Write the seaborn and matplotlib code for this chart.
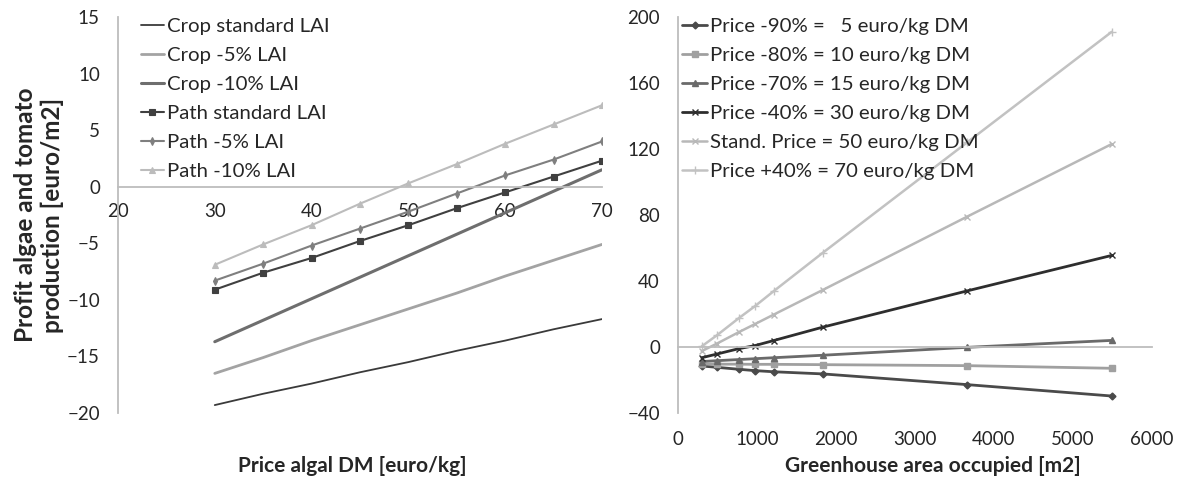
import pandas as pd
import seaborn as sns
import matplotlib
matplotlib.use("Agg")
import matplotlib.pyplot as plt

# left chart: profit vs algal price
price = [30, 35, 40, 45, 50, 55, 60, 65, 70]
crop_std = [-19.3, -18.3, -17.4, -16.4, -15.5, -14.5, -13.6, -12.6, -11.7]
crop_5 = [-16.5, -15.1, -13.6, -12.2, -10.8, -9.4, -7.9, -6.5, -5.1]
crop_10 = [-13.7, -11.8, -9.9, -8.0, -6.1, -4.2, -2.3, -0.4, 1.5]
path_std = [-9.1, -7.6, -6.3, -4.8, -3.4, -1.9, -0.5, 0.9, 2.3]
path_5 = [-8.3, -6.8, -5.2, -3.7, -2.2, -0.6, 1.0, 2.4, 4.0]
path_10 = [-6.9, -5.1, -3.4, -1.5, 0.3, 2.0, 3.8, 5.5, 7.2]

# right chart: profit vs greenhouse area
area = [300, 490, 770, 970, 1210, 1830, 3660, 5490]
p_minus90 = [-11.5, -12.3, -13.5, -14.3, -15.0, -16.3, -22.8, -29.7]
p_minus80 = [-10.3, -10.4, -10.4, -10.5, -10.5, -10.7, -11.3, -12.9]
p_minus70 = [-8.8, -8.3, -7.6, -7.1, -6.5, -5.0, -0.2, 4.0]
p_minus40 = [-6.5, -4.3, -1.0, 0.8, 3.9, 12.0, 34.0, 55.5]
p_stand = [-2.5, 2.0, 9.0, 13.8, 19.6, 34.5, 79.0, 123.0]
p_plus40 = [0.4, 7.0, 17.5, 24.6, 33.8, 57.0, 124.0, 191.0]

left_labels = ["Crop standard LAI", "Crop -5% LAI", "Crop -10% LAI",
               "Path standard LAI", "Path -5% LAI", "Path -10% LAI"]
right_labels = ["Price -90% =   5 euro/kg DM", "Price -80% = 10 euro/kg DM",
                "Price -70% = 15 euro/kg DM", "Price -40% = 30 euro/kg DM",
                "Stand. Price = 50 euro/kg DM", "Price +40% = 70 euro/kg DM"]

sns.set_style("white")
plt.rcParams["font.family"] = ["Lato", "DejaVu Sans"]

axis_col = "#bdbdbd"
txt_col = "#262626"

fig = plt.figure(figsize=(11.82, 4.86), dpi=100)
ax1 = fig.add_axes([0.0998, 0.1502, 0.4095, 0.8148])
ax2 = fig.add_axes([0.5736, 0.1502, 0.4010, 0.8148])

left_series = [crop_std, crop_5, crop_10, path_std, path_5, path_10]
left_style = [
    dict(color="#3a3a3a", lw=1.3, marker=None),
    dict(color="#a3a3a3", lw=2.0, marker=None),
    dict(color="#6e6e6e", lw=2.2, marker=None),
    dict(color="#404040", lw=1.5, marker="s", ms=5),
    dict(color="#7f7f7f", lw=1.5, marker="d", ms=4),
    dict(color="#bcbcbc", lw=1.5, marker="^", ms=5),
]
for vals, lab, st in zip(left_series, left_labels, left_style):
    df = pd.DataFrame({"x": price, "y": vals})
    sns.lineplot(data=df, x="x", y="y", ax=ax1, label=lab, color=st["color"],
                 linewidth=st["lw"], marker=st["marker"],
                 markersize=st.get("ms", 0), markeredgewidth=0.8,
                 markeredgecolor=st["color"])

right_series = [p_minus90, p_minus80, p_minus70, p_minus40, p_stand, p_plus40]
right_style = [
    dict(color="#4a4a4a", lw=2.0, marker="D", ms=3.5),
    dict(color="#a0a0a0", lw=2.0, marker="s", ms=5),
    dict(color="#6a6a6a", lw=2.0, marker="^", ms=5),
    dict(color="#2e2e2e", lw=2.0, marker="x", ms=5),
    dict(color="#b8b8b8", lw=1.8, marker="x", ms=5),
    dict(color="#c2c2c2", lw=1.8, marker="+", ms=6),
]
for vals, lab, st in zip(right_series, right_labels, right_style):
    df = pd.DataFrame({"x": area, "y": vals})
    sns.lineplot(data=df, x="x", y="y", ax=ax2, label=lab, color=st["color"],
                 linewidth=st["lw"], marker=st["marker"],
                 markersize=st["ms"], markeredgewidth=1.0,
                 markeredgecolor=st["color"])

# axes styling
ax1.set_xlim(20, 70)
ax1.set_ylim(-20, 15)
ax1.set_xticks(range(20, 71, 10))
ax1.set_yticks(range(-20, 16, 5))
ax2.set_xlim(0, 6000)
ax2.set_ylim(-40, 200)
ax2.set_xticks(range(0, 6001, 1000))
ax2.set_yticks(range(-40, 201, 40))

for ax in (ax1, ax2):
    for s in ["top", "right"]:
        ax.spines[s].set_visible(False)
    ax.spines["bottom"].set_position(("data", 0))
    for s in ["bottom", "left"]:
        ax.spines[s].set_color(axis_col)
        ax.spines[s].set_linewidth(1.3)
    ax.tick_params(axis="both", direction="out", length=5, width=1.2,
                   color=axis_col, labelcolor=txt_col, labelsize=13.5)
    ax.tick_params(axis="y", pad=8)
    ax.grid(False)
    ax.set_xlabel("")
    ax.set_ylabel("")

ax1.tick_params(axis="x", pad=7)

# right chart: tick labels sit at the bottom of the plot area
ax2.tick_params(axis="x", labelbottom=False)
sec = ax2.secondary_xaxis(0.0)
sec.set_xticks(range(0, 6001, 1000))
sec.tick_params(length=0, pad=13, labelsize=13.5, labelcolor=txt_col)
sec.spines["bottom"].set_visible(False)

ax1.set_ylabel("Profit algae and tomato\nproduction [euro/m2]", fontsize=17.5,
               fontweight="bold", color=txt_col, linespacing=1.2)
ax1.yaxis.set_label_coords(-0.112, 0.5)

fig.text(0.298, 0.041, "Price algal DM [euro/kg]", fontsize=15,
         fontweight="bold", color=txt_col, ha="center", va="center")
fig.text(0.789, 0.041, "Greenhouse area occupied [m2]", fontsize=15,
         fontweight="bold", color=txt_col, ha="center", va="center")

leg1 = ax1.legend(loc="upper left", bbox_to_anchor=(0.048, 0.997), frameon=False,
                  fontsize=14.7, handlelength=1.1, handletextpad=0.15,
                  labelspacing=0.57, borderpad=0, borderaxespad=0)
leg2 = ax2.legend(loc="upper left", bbox_to_anchor=(0.008, 0.997), frameon=False,
                  fontsize=14.7, handlelength=1.25, handletextpad=0.12,
                  labelspacing=0.57, borderpad=0, borderaxespad=0)
for leg in (leg1, leg2):
    for t in leg.get_texts():
        t.set_color(txt_col)

fig.savefig("out.png", dpi=100)
